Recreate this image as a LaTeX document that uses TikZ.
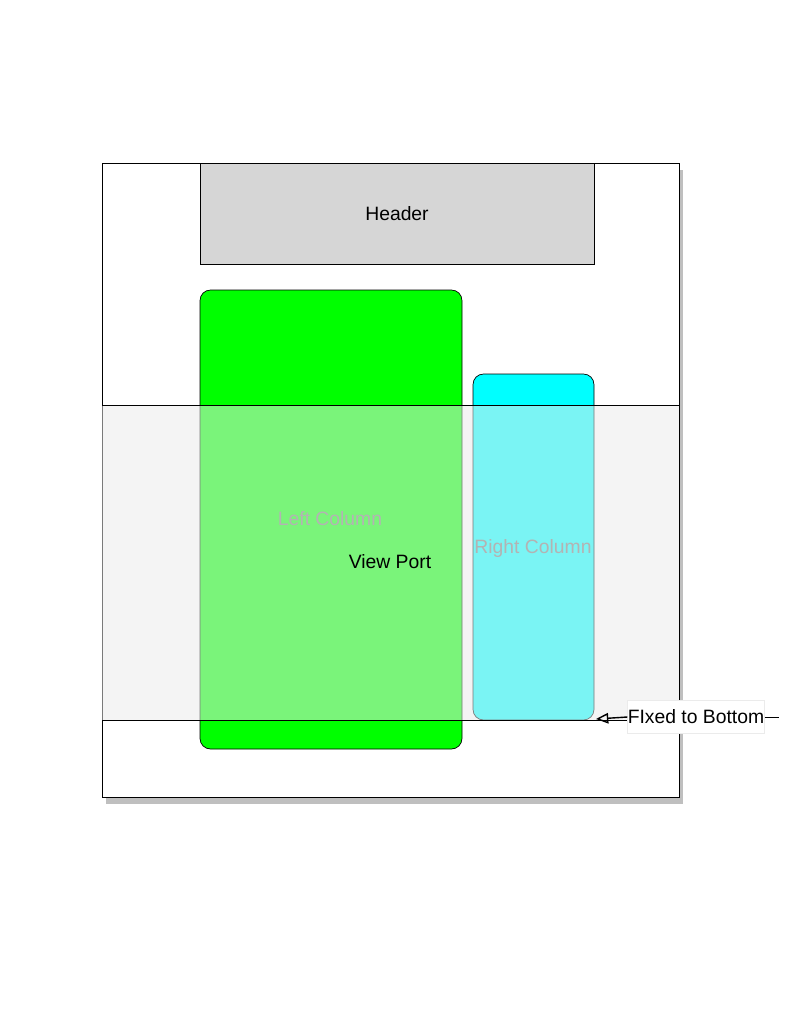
\documentclass[tikz,border=0pt]{standalone}
\usepackage{fontspec}
\setmainfont{Liberation Sans}
\usetikzlibrary{arrows.meta,shadows}
\begin{document}
\begin{tikzpicture}[x=0.02cm,y=-0.02cm,
  lbl/.style={font=\fontsize{11}{13}\selectfont},
  col/.style={draw=black,rounded corners=6pt}]
\useasboundingbox (0,0) rectangle (800,1019);
\fill[white] (0,0) rectangle (800,1019);
\node[draw=black,fill=white,minimum width=577*0.02cm,minimum height=634*0.02cm,inner sep=0,
  drop shadow={shadow xshift=2pt,shadow yshift=-4pt,opacity=0.5}] (frame) at (390.5,480) {};
\node[draw=black,fill={rgb,255:red,214;green,214;blue,214},minimum width=394*0.02cm,minimum height=101*0.02cm,inner sep=0] (header) at (397,213.5) {};
\node[lbl] at (header) {Header};
\draw[col,fill={rgb,255:red,0;green,255;blue,0}] (200,290) rectangle (462,749);
\draw[col,fill={rgb,255:red,0;green,255;blue,255}] (473,374) rectangle (594,720);
\node[lbl,text={rgb,255:red,120;green,120;blue,120}] (lc) at (330,519) {Left Column};
\node[lbl,text={rgb,255:red,120;green,120;blue,120}] (rc) at (533,548) {Right Column};
\fill[fill={rgb,255:red,234;green,234;blue,234},fill opacity=0.52] (102,405) rectangle (679,720);
\draw[black] (102,405) -- (679,405) (102,720) -- (679,720);
\node[lbl] (vp) at (390,562) {View Port};
\node[lbl,fill=white,draw={rgb,255:red,235;green,235;blue,235},minimum width=132*0.02cm,minimum height=33*0.02cm,inner sep=0] (fb) at (696,717) {FIxed to Bottom};
\coordinate (tip) at (596,719);
\coordinate (endr) at (779,717);
\draw[thick,-{Triangle[open,length=7pt,width=6pt]}] (fb.west) -- (tip);
\draw (fb.east) -- (endr);
\end{tikzpicture}
\end{document}
